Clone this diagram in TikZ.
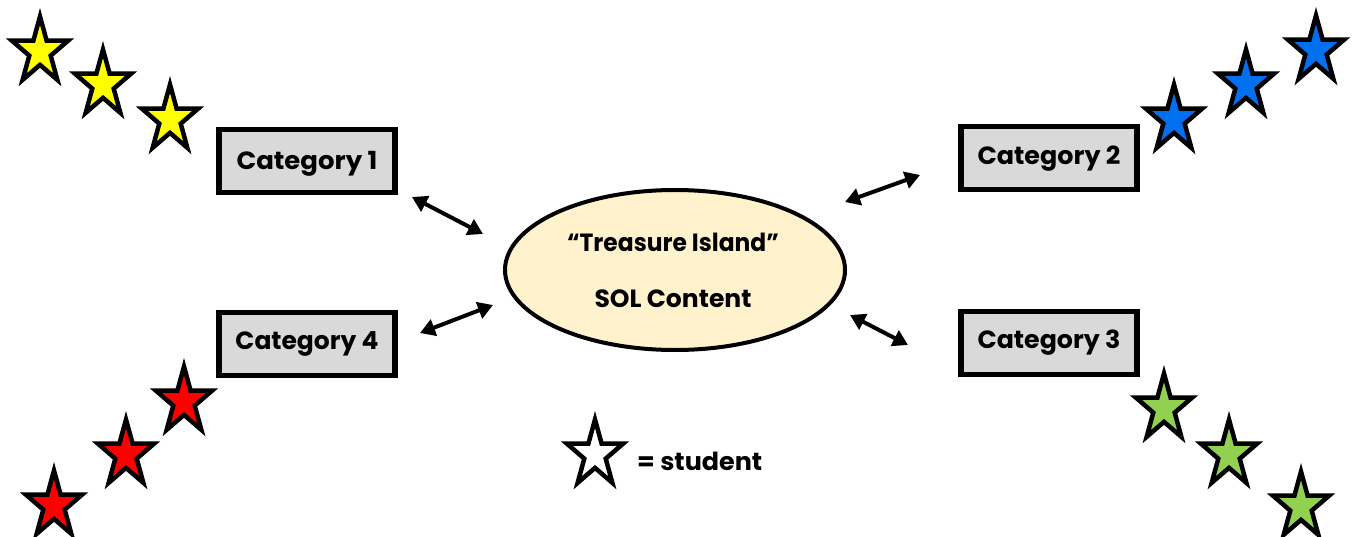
\documentclass[tikz,border=0pt]{standalone}
\usepackage{fontspec}
\setmainfont{Poppins}
\usetikzlibrary{arrows.meta,shapes.geometric}
\definecolor{boxgray}{HTML}{D9D9D9}
\definecolor{ellfill}{HTML}{FFF2CC}
\definecolor{styellow}{HTML}{FFFF00}
\definecolor{stblue}{HTML}{0070F0}
\definecolor{stred}{HTML}{FF0000}
\definecolor{stgreen}{HTML}{92D050}
\newcommand\fitw[2]{\resizebox{#1bp}{\height}{#2}}
\tikzset{
  catbox/.style={draw=black, line width=5.5bp, fill=boxgray, inner sep=0pt,
    minimum width=176bp, minimum height=63bp, text height=18bp, text depth=0bp,
    font=\fontsize{25}{28}\selectfont\bfseries},
  centerell/.style={draw=black, line width=4bp, fill=ellfill, ellipse, minimum width=340bp, minimum height=160bp},
  lbl/.style={font=\fontsize{25}{28}\selectfont\bfseries, inner sep=0pt},
  dbl/.style={line width=4bp, {Triangle[length=15bp,width=17bp]}-{Triangle[length=15bp,width=17bp]}},
  starline/.style={draw=black, line width=4.5bp, line join=miter}
}
\newcommand\drawstar[3]{%
  \draw[starline,fill=#3,shift={(#1,#2+41.5)}]
    (-90:29.5 and 35) -- (-54:11.27 and 13.37) -- (-18:29.5 and 35) -- (18:11.27 and 13.37)
    -- (54:29.5 and 35) -- (90:11.27 and 13.37) -- (126:29.5 and 35) -- (162:11.27 and 13.37)
    -- (198:29.5 and 35) -- (234:11.27 and 13.37) -- cycle;}
\begin{document}
\begin{tikzpicture}[x=1bp,y=-1bp]
\useasboundingbox (0,0) rectangle (1354,537);
% boxes
\node[catbox] (c1) at (307,161) {\fitw{141}{Category 1}};
\node[catbox, text depth=4bp] (c2) at (1049,158) {\fitw{143}{Category 2}};
\node[catbox, text depth=8bp] (c3) at (1049,343) {\fitw{143}{Category 3}};
\node[catbox, text depth=8bp] (c4) at (307,344) {\fitw{143}{Category 4}};
% ellipse
\node[centerell] (sol) at (675,270) {};
\node[lbl, anchor=base] (t1) at (673,252) {\fitw{212}{“Treasure Island”}};
\node[lbl, anchor=base] (t2) at (673,307) {\fitw{157}{SOL Content}};
% arrows
\coordinate (a1s) at (412,197); \coordinate (a1e) at (483,234);
\coordinate (a2s) at (845,202); \coordinate (a2e) at (920,175);
\coordinate (a3s) at (850,315); \coordinate (a3e) at (908,345);
\coordinate (a4s) at (420,333); \coordinate (a4e) at (493,305);
\draw[dbl] (a1s) -- (a1e);
\draw[dbl] (a2s) -- (a2e);
\draw[dbl] (a3s) -- (a3e);
\draw[dbl] (a4s) -- (a4e);
% stars
\drawstar{40}{10}{styellow}
\drawstar{103}{43}{styellow}
\drawstar{170}{78}{styellow}
\drawstar{1174}{78}{stblue}
\drawstar{1246}{43}{stblue}
\drawstar{1316}{9}{stblue}
\drawstar{184}{360}{stred}
\drawstar{126}{413}{stred}
\drawstar{54}{464}{stred}
\drawstar{1164}{367}{stgreen}
\drawstar{1229}{413}{stgreen}
\drawstar{1301}{465}{stgreen}
\drawstar{595}{413}{white}
\node[lbl, anchor=west] (leg) at (637,461) {\fitw{125}{= student}};
\end{tikzpicture}
\end{document}
